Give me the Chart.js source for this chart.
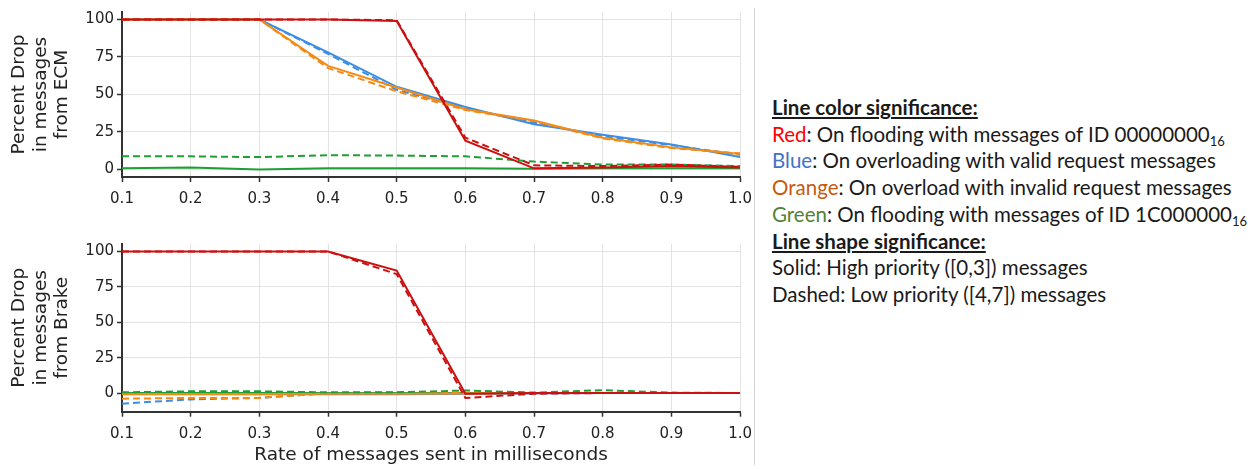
<!DOCTYPE html>
<html>
<head>
<meta charset="utf-8">
<script src="https://cdn.jsdelivr.net/npm/chart.js@4.4.1/dist/chart.umd.min.js"></script>
<style>
  body { margin: 0; background: #fff; width: 1251px; height: 469px; overflow: hidden; position: relative; }
  .box { position: absolute; }
  #sep { position: absolute; left: 754px; top: 8px; width: 1px; height: 457px; background: #d4d4d4; }
  #legend { position: absolute; left: 772px; top: 94px; font-family: Lato, sans-serif; font-size: 20.5px; line-height: 26.7px; color: #1a1a1a; white-space: nowrap; }
  #legend .h { font-weight: bold; text-decoration: underline; }
  #legend sub { font-size: 13px; vertical-align: -4px; line-height: 0; }
</style>
</head>
<body>
<div class="box" style="left:0;top:0;width:760px;height:215px;"><canvas id="chartECM"></canvas></div>
<div class="box" style="left:0;top:230px;width:760px;height:239px;"><canvas id="chartBrake"></canvas></div>
<div id="sep"></div>
<div id="legend">
  <div class="h">Line color significance:</div>
  <div><span style="color:#ff0000">Red</span>: On flooding with messages of ID 00000000<sub>16</sub></div>
  <div><span style="color:#4472c4">Blue</span>: On overloading with valid request messages</div>
  <div><span style="color:#c55a11">Orange</span>: On overload with invalid request messages</div>
  <div><span style="color:#548235">Green</span>: On flooding with messages of ID 1C000000<sub>16</sub></div>
  <div class="h">Line shape significance:</div>
  <div>Solid: High priority ([0,3]) messages</div>
  <div>Dashed: Low priority ([4,7]) messages</div>
</div>
<script>
// sending rate (ms)
const rates = [0.1, 0.2, 0.3, 0.4, 0.5, 0.6, 0.7, 0.8, 0.9, 1.0];
const yTicks = [0, 25, 50, 75, 100];

// ECM - percent drop
const ecmRedHigh    = [100, 100, 100, 100, 99, 19, 0.5, 1, 2, 1];
const ecmRedLow     = [100, 100, 100, 100, 99.5, 21, 2.5, 2, 3, 1.5];
const ecmBlueHigh   = [100, 100, 100, 78, 55, 41.5, 30, 23, 16.5, 8];
const ecmBlueLow    = [100, 100, 100, 77, 53, 40.5, 31, 22, 16, 9.5];
const ecmOrangeHigh = [100, 100, 100, 69, 54.5, 40, 32.5, 21, 14.5, 10];
const ecmOrangeLow  = [100, 100, 100, 67.5, 52, 39.5, 32, 20.5, 14, 10.5];
const ecmGreenHigh  = [0.5, 1, -0.3, 0.5, 0.5, 0.5, 0.2, 0.5, 0.5, 0.5];
const ecmGreenLow   = [8.5, 8.5, 8, 9.3, 9, 8.5, 5, 3, 3, 2];

// Brake - percent drop
const brkRedHigh    = [100, 100, 100, 100, 86.5, -0.5, 0, 0, 0, 0];
const brkRedLow     = [100, 100, 100, 100, 84, -3.5, -0.5, 0, 0, 0];
const brkBlueHigh   = [-0.8, -0.8, -0.8, -0.8, -0.8, -0.6, -0.3, 0, 0, 0];
const brkBlueLow    = [-7.5, -4.5, -3.5, 0, 0, 0, 0, 0, 0, 0];
const brkOrangeHigh = [-0.7, -0.7, -0.7, -0.5, -0.5, -0.3, 0, 0, 0, 0];
const brkOrangeLow  = [-4, -3.5, -3.5, 0, 0.5, 0, 0, 0, 0, 0];
const brkGreenHigh  = [0, 0, 0, 0, 0, 0, 0, 0, 0, 0];
const brkGreenLow   = [0.5, 1.2, 1.2, 0.5, 0.5, 1.8, 0.3, 2, 0.3, 0];

const RED = '#cc1010', BLUE = '#3a8ee6', ORANGE = '#f58a14', GREEN = '#1f9e35';

function line(vals, color, dashed, order) {
  return {
    data: vals.map((v, i) => ({ x: rates[i], y: v })),
    borderColor: color,
    borderWidth: 2,
    borderDash: dashed ? [7, 4] : [],
    pointRadius: 0,
    tension: 0,
    fill: false,
    order: order
  };
}

function makeChart(id, sets, yMin, yMax, title, showXTitle, padTop, padBottom, xHeight) {
  new Chart(document.getElementById(id), {
    type: 'line',
    data: { datasets: sets },
    options: {
      responsive: true,
      maintainAspectRatio: false,
      animation: false,
      layout: { padding: { top: padTop, right: 18, left: 0, bottom: padBottom } },
      plugins: { legend: { display: false }, tooltip: { enabled: false } },
      scales: {
        x: {
          type: 'linear',
          min: 0.1, max: 1.0,
          afterBuildTicks: s => { s.ticks = rates.map(v => ({ value: v })); },
          afterFit: s => { s.height = xHeight; },
          ticks: {
            callback: v => v.toFixed(1),
            font: { family: 'DejaVu Sans', size: 15 },
            color: '#222',
            padding: 8,
            maxRotation: 0,
            autoSkip: false
          },
          grid: { color: '#e3e3e3', lineWidth: 1, tickLength: 5, tickColor: '#333', tickWidth: 1.5 },
          border: { color: '#333', width: 2 },
          title: {
            display: showXTitle,
            text: 'Rate of messages sent in milliseconds',
            font: { family: 'DejaVu Sans', size: 18.5 },
            color: '#222',
            padding: { top: 0, bottom: 0 }
          }
        },
        y: {
          min: yMin, max: yMax,
          afterBuildTicks: s => { s.ticks = yTicks.map(v => ({ value: v })); },
          afterFit: s => { s.width = 122; },
          ticks: {
            font: { family: 'DejaVu Sans', size: 15 },
            color: '#222',
            padding: 3
          },
          grid: { color: '#e3e3e3', lineWidth: 1, tickLength: 5, tickColor: '#333', tickWidth: 1.5 },
          border: { color: '#333', width: 2 },
          title: {
            display: true,
            text: title,
            font: { family: 'DejaVu Sans', size: 18.5, lineHeight: 1.15 },
            color: '#222',
            padding: { top: 9, bottom: 0 }
          }
        }
      }
    }
  });
}

makeChart('chartECM', [
  line(ecmRedHigh, RED, false, 1),
  line(ecmRedLow, RED, true, 2),
  line(ecmBlueHigh, BLUE, false, 4),
  line(ecmBlueLow, BLUE, true, 5),
  line(ecmOrangeHigh, ORANGE, false, 3),
  line(ecmOrangeLow, ORANGE, true, 3),
  line(ecmGreenHigh, GREEN, false, 6),
  line(ecmGreenLow, GREEN, true, 6)
], -5.3, 105, ['Percent Drop', 'in messages', 'from ECM'], false, 9, 0, 38);

makeChart('chartBrake', [
  line(brkRedHigh, RED, false, 2),
  line(brkRedLow, RED, true, 1),
  line(brkBlueHigh, BLUE, false, 6),
  line(brkBlueLow, BLUE, true, 5),
  line(brkOrangeHigh, ORANGE, false, 3),
  line(brkOrangeLow, ORANGE, true, 4),
  line(brkGreenHigh, GREEN, false, 7),
  line(brkGreenLow, GREEN, true, 2)
], -13.2, 105.3, ['Percent Drop', 'in messages', 'from Brake'], true, 14, 3, 54.3);
</script>
</body>
</html>
